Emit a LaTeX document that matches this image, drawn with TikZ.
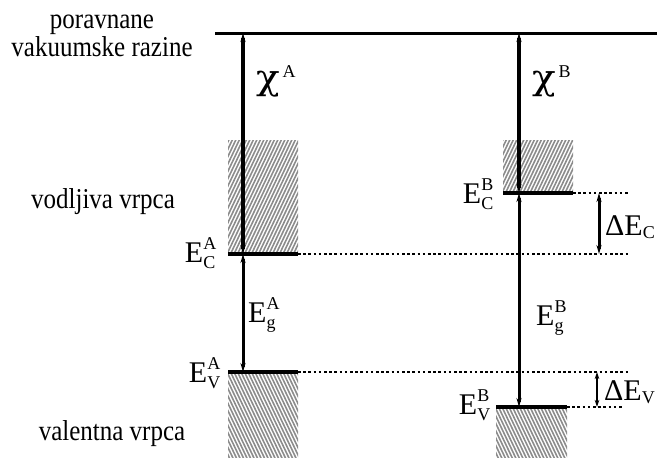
\documentclass[tikz,border=0pt]{standalone}
\usepackage{amsmath}
\usepackage{fontspec}
\setmainfont{Liberation Serif}
\newfontfamily\chifont{DejaVu Serif}
\usetikzlibrary{arrows.meta}
\DeclareMathSizes{30}{30}{18}{14}
\newcommand{\lvlsym}[2]{$\text{E}^{\text{#1}}_{\text{#2}}$}
\newcommand{\chisym}[1]{$\text{\scalebox{1.3}[1.15]{\chifont χ}}^{\,\text{#1}}$}
\newcommand{\vstretch}[1]{\scalebox{1}[1.15]{#1}}
\tikzset{
  lbl/.style={font=\fontsize{25}{28}\selectfont, inner sep=0pt, anchor=base},
  sym/.style={font=\fontsize{30}{32}\selectfont, inner sep=0pt},
  lvl/.style={line width=3.6pt},
  dotl/.style={line width=2.8pt, dash pattern=on 2.6pt off 2.6pt},
  bigarrow/.style={line width=3.2pt, {Stealth[length=9pt,width=5pt]}-{Stealth[length=9pt,width=5pt]}},
  midarrow/.style={line width=3pt, {Stealth[length=9pt,width=5pt]}-{Stealth[length=9pt,width=5pt]}},
  smallarrow/.style={line width=2.4pt, {Stealth[length=7pt,width=4.5pt]}-{Stealth[length=7pt,width=4.5pt]}},
  hatchline/.style={gray!90, line width=1.6pt},
}
\begin{document}
\begin{tikzpicture}[x=1pt,y=-1pt]
\useasboundingbox (0,0) rectangle (657,458);
% hatched bands
\begin{scope}
  \clip (228,140) rectangle (298,254);
  \foreach \i in {-120,-116.5,...,80} \draw[hatchline] (228+\i,254) -- ++(100,-210);
\end{scope}
\begin{scope}
  \clip (228,372) rectangle (298,458);
  \foreach \i in {-120,-116.5,...,80} \draw[hatchline] (228+\i,372) -- ++(100,210);
\end{scope}
\begin{scope}
  \clip (503,140) rectangle (573,193);
  \foreach \i in {-120,-116.5,...,80} \draw[hatchline] (503+\i,193) -- ++(100,-210);
\end{scope}
\begin{scope}
  \clip (496,407) rectangle (567,458);
  \foreach \i in {-120,-116.5,...,80} \draw[hatchline] (496+\i,407) -- ++(100,210);
\end{scope}
% coordinates
\coordinate (vacL) at (215,33);
\coordinate (vacR) at (657,33);
\coordinate (vacA) at (243,33);
\coordinate (vacB) at (519,33);
\coordinate (ecAl) at (228,254);
\coordinate (ecAr) at (298,254);
\coordinate (ecAm) at (243,254);
\coordinate (ecAd) at (628,254);
\coordinate (evAl) at (228,372);
\coordinate (evAr) at (298,372);
\coordinate (evAm) at (243,372);
\coordinate (evAd) at (628,372);
\coordinate (ecBl) at (503,193);
\coordinate (ecBr) at (573,193);
\coordinate (ecBm) at (519,193);
\coordinate (ecBd) at (630,193);
\coordinate (evBl) at (496,407);
\coordinate (evBr) at (567,407);
\coordinate (evBm) at (519,407);
\coordinate (evBd) at (623,407);
\coordinate (dcT) at (599,193);
\coordinate (dcB) at (599,254);
\coordinate (dvT) at (597,372);
\coordinate (dvB) at (597,407);
% levels
\draw[line width=3pt] (vacL) -- (vacR);
\draw[lvl] (ecAl) -- (ecAr);
\draw[lvl] (evAl) -- (evAr);
\draw[lvl] (ecBl) -- (ecBr);
\draw[lvl] (evBl) -- (evBr);
\draw[dotl] (ecAr) -- (ecAd);
\draw[dotl] (evAr) -- (evAd);
\draw[dotl] (ecBr) -- (ecBd);
\draw[dotl] (evBr) -- (evBd);
% arrows
\draw[bigarrow] (vacA) -- (ecAm);
\draw[midarrow] (ecAm) -- (evAm);
\draw[bigarrow] (vacB) -- (ecBm);
\draw[midarrow] (ecBm) -- (evBm);
\draw[midarrow] (dcT) -- (dcB);
\draw[smallarrow] (dvT) -- (dvB);
% labels
\node[lbl] (t1) at (102,28) {\vstretch{poravnane}};
\node[lbl] (t2) at (102,56) {\vstretch{vakuumske razine}};
\node[lbl] (t3) at (103,208) {\vstretch{vodljiva vrpca}};
\node[lbl] (t4) at (112,440) {\vstretch{valentna vrpca}};
\node[sym, anchor=base west] (chiA) at (256,89) {\chisym{A}};
\node[sym, anchor=base west] (chiB) at (532,89) {\chisym{B}};
\node[sym, anchor=base east] (ECA) at (217,262) {\lvlsym{A}{C}};
\node[sym, anchor=base east] (EVA) at (221,382) {\lvlsym{A}{V}};
\node[sym, anchor=base west] (EgA) at (248,322) {\lvlsym{A}{g}};
\node[sym, anchor=base east] (ECB) at (494,203) {\lvlsym{B}{C}};
\node[sym, anchor=base west] (EgB) at (536,325) {\lvlsym{B}{g}};
\node[sym, anchor=base east] (EVB) at (491,414) {\lvlsym{B}{V}};
\node[sym, anchor=base west] (dEC) at (605,235) {$\text{ΔE}_{\text{C}}$};
\node[sym, anchor=base west] (dEV) at (604,400) {$\text{ΔE}_{\text{V}}$};
\end{tikzpicture}
\end{document}
